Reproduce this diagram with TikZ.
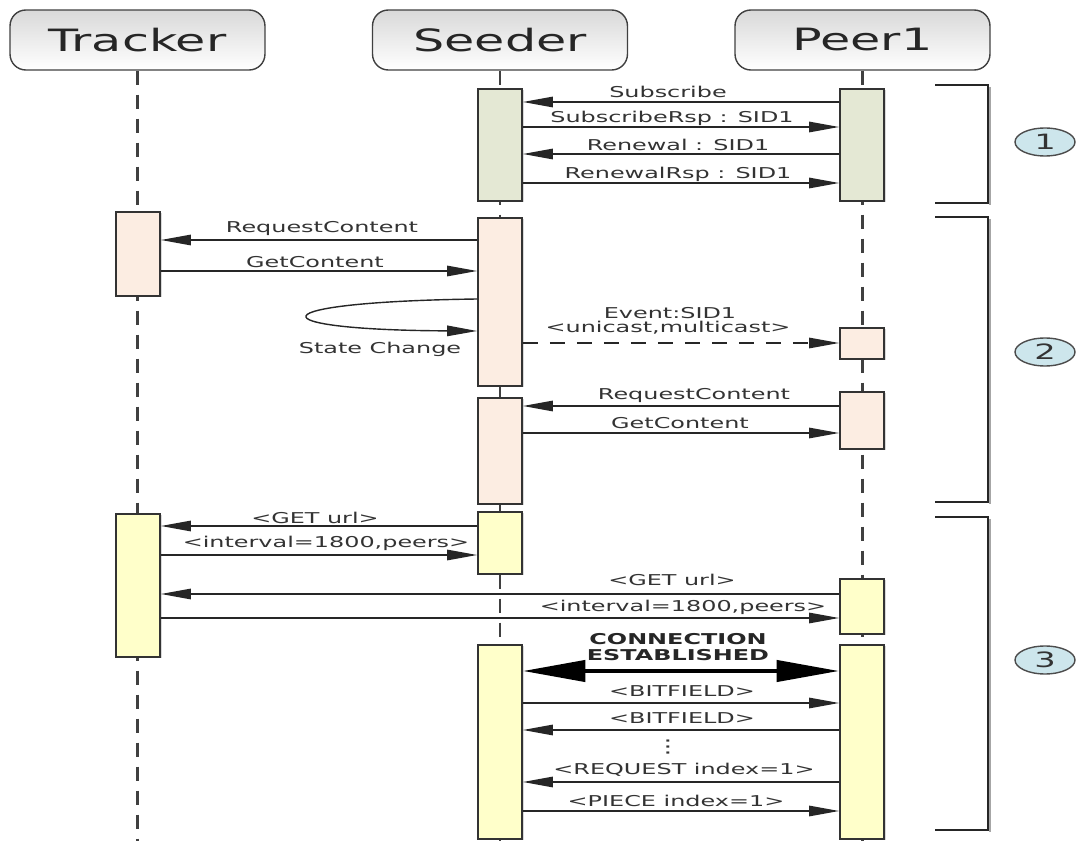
\documentclass[tikz,border=0pt]{standalone}
\usepackage{fontspec}
\setmainfont{DejaVu Sans}[FakeStretch=1.6]
\usepackage{xcolor}
\usetikzlibrary{arrows.meta,positioning,shapes.geometric,shadows}

\definecolor{subgreen}{HTML}{E4E8D4}
\definecolor{reqpeach}{HTML}{FCEDE2}
\definecolor{btyellow}{HTML}{FFFFCA}
\definecolor{phaseblue}{HTML}{CDE6EC}

\begin{document}
\begin{tikzpicture}[
    x=0.02cm, y=-0.02cm,
    every node/.style={font=\fontsize{8.5}{10}\selectfont, text=black!80},
    actor/.style={rectangle, draw=black!75, line width=0.8pt, rounded corners=9pt,
                  top color=black!15, bottom color=white,
                  minimum width=5.1cm, minimum height=1.2cm,
                  font=\fontsize{17.5}{20}\selectfont, text=black!85},
    life/.style={black!75, line width=1.4pt, dash pattern=on 0.28cm off 0.2cm},
    bar/.style={rectangle, draw=black!80, line width=1pt, minimum width=0.88cm,
                inner sep=0pt, anchor=north,
                drop shadow={shadow xshift=1.2pt, shadow yshift=-0.6pt, opacity=0.3}},
    msg/.style={-{Triangle[length=0.6cm, width=0.21cm]}, line width=0.8pt, black!85},
    conn/.style={{Triangle[length=1.25cm, width=0.42cm]}-{Triangle[length=1.25cm, width=0.42cm]},
                 line width=2.4pt, black},
    brace/.style={line width=0.9pt, black!85},
    phase/.style={ellipse, draw=black!70, line width=0.8pt, fill=phaseblue,
                  minimum width=1.2cm, minimum height=0.56cm, inner sep=0pt,
                  font=\fontsize{12}{13}\selectfont},
]
\useasboundingbox (0,0) rectangle (1080,841);

% Actors and lifelines
\node[actor] (tracker) at (137.5,40) {Tracker};
\node[actor] (seeder)  at (500,40)   {Seeder};
\node[actor] (peer)    at (862.5,40) {Peer1};
\draw[life] (tracker.south) -- (tracker.south |- 0,841);
\draw[life] (seeder.south)  -- (seeder.south |- 0,841);
\draw[life] (peer.south)    -- (peer.south |- 0,841);

% Phase 1: subscription
\node[bar, fill=subgreen, minimum height=2.24cm] (s1) at (500,88) {};
\node[bar, fill=subgreen, minimum height=2.24cm] (p1) at (862,88) {};

% Phase 2: content request
\node[bar, fill=reqpeach, minimum height=1.68cm] (t2) at (138,211) {};
\node[bar, fill=reqpeach, minimum height=3.36cm] (s2) at (500,217) {};
\node[bar, fill=reqpeach, minimum height=0.62cm] (p2) at (862,327) {};
\node[bar, fill=reqpeach, minimum height=2.12cm] (s3) at (500,397) {};
\node[bar, fill=reqpeach, minimum height=1.14cm] (p3) at (862,391) {};

% Phase 3: tracker and peer wire
\node[bar, fill=btyellow, minimum height=2.86cm] (t4) at (138,513) {};
\node[bar, fill=btyellow, minimum height=1.24cm] (s4) at (500,511) {};
\node[bar, fill=btyellow, minimum height=1.10cm] (p4) at (862,578) {};
\node[bar, fill=btyellow, minimum height=3.88cm] (s5) at (500,644) {};
\node[bar, fill=btyellow, minimum height=3.88cm] (p5) at (862,644) {};

% Messages, phase 1
\draw[msg] (p1.west |- 0,102) -- (s1.east |- 0,102);
\draw[msg] (s1.east |- 0,127) -- (p1.west |- 0,127);
\draw[msg] (p1.west |- 0,154) -- (s1.east |- 0,154);
\draw[msg] (s1.east |- 0,183) -- (p1.west |- 0,183);
\node (m1) at (668,92)  {Subscribe};
\node (m2) at (672,118) {SubscribeRsp : SID1};
\node (m3) at (678,145) {Renewal : SID1};
\node (m4) at (678,174) {RenewalRsp : SID1};

% Messages, phase 2
\draw[msg] (s2.west |- 0,240) -- (t2.east |- 0,240);
\draw[msg] (t2.east |- 0,271) -- (s2.west |- 0,271);
\draw[msg] (s2.west |- 0,299) .. controls (254,302) and (254,330) .. (s2.west |- 0,331);
\draw[msg, dash pattern=on 0.3cm off 0.24cm] (s2.east |- 0,343) -- (p2.west |- 0,343);
\draw[msg] (p3.west |- 0,406) -- (s3.east |- 0,406);
\draw[msg] (s3.east |- 0,433) -- (p3.west |- 0,433);
\node (m5)  at (322,229) {RequestContent};
\node (m6)  at (315,262) {GetContent};
\node (m7)  at (380,349) {State Change};
\node (m8)  at (670,313) {Event:SID1};
\node (m9)  at (668,328) {<unicast,multicast>};
\node (m10) at (694,396) {RequestContent};
\node (m11) at (680,423) {GetContent};

% Messages, phase 3
\draw[msg] (s4.west |- 0,526) -- (t4.east |- 0,526);
\draw[msg] (t4.east |- 0,555) -- (s4.west |- 0,555);
\draw[msg] (p4.west |- 0,594) -- (t4.east |- 0,594);
\draw[msg] (t4.east |- 0,618) -- (p4.west |- 0,618);
\draw[conn] (s5.east |- 0,671) -- (p5.west |- 0,671);
\draw[msg] (s5.east |- 0,703) -- (p5.west |- 0,703);
\draw[msg] (p5.west |- 0,730) -- (s5.east |- 0,730);
\draw[msg] (p5.west |- 0,782) -- (s5.east |- 0,782);
\draw[msg] (s5.east |- 0,811) -- (p5.west |- 0,811);
\node (m12) at (315,518) {<GET url>};
\node (m13) at (326,543) {<interval=1800,peers>};
\node (m14) at (672,580) {<GET url>};
\node (m15) at (683,607) {<interval=1800,peers>};
\node[font=\fontsize{8.5}{10}\selectfont\bfseries, text=black!85, align=center] (m16) at (678,647) {CONNECTION\\[-1pt]ESTABLISHED};
\node (m17) at (682,691) {<BITFIELD>};
\node (m18) at (682,718) {<BITFIELD>};
\node[font=\fontsize{10}{10}\selectfont] (m19) at (668,747) {⋮};
\node (m20) at (684,770) {<REQUEST index=1>};
\node (m21) at (676,801) {<PIECE index=1>};

% Phase brackets
\draw[brace, black!35] (990,87) -- (990,205);
\draw[brace] (935,85) -| (988,203) -- (935,203);
\draw[brace, black!35] (990,219) -- (990,504);
\draw[brace] (935,217) -| (988,502) -- (935,502);
\draw[brace, black!35] (990,519) -- (990,832);
\draw[brace] (935,517) -| (988,830) -- (935,830);
\node[phase] (ph1) at (1045,142) {1};
\node[phase] (ph2) at (1045,352) {2};
\node[phase] (ph3) at (1045,660) {3};
\end{tikzpicture}
\end{document}
